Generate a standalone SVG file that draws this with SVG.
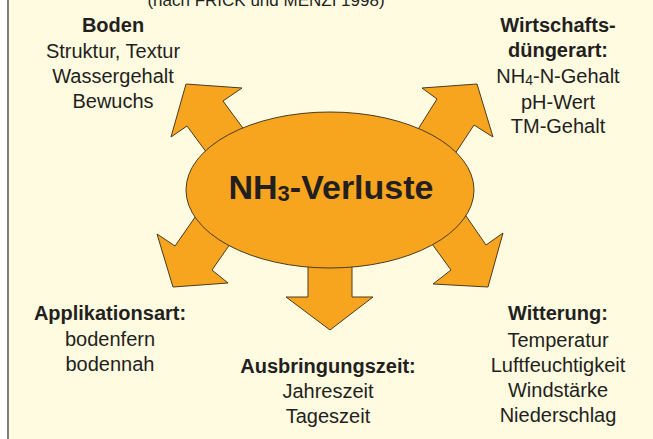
<svg xmlns="http://www.w3.org/2000/svg" width="653" height="439" viewBox="0 0 653 439">
<style>
.bg{fill:#FFFBE0;stroke:#555;stroke-width:1.5}
.sh{fill:#F7A51E;stroke:#4a3b22;stroke-width:1;stroke-linejoin:miter}
text{font-family:"Liberation Sans",Arial,Helvetica,sans-serif;fill:#231F20;text-anchor:middle}
.t{font-size:20px}
.b{font-size:20px;font-weight:bold}
</style>
<rect x="0" y="0" width="653" height="439" fill="#fff"/>
<rect class="bg" x="8" y="-5" width="660" height="450"/>
<text x="266" y="6" style="font-size:17px">(nach FRICK und MENZI 1998)</text>
<g id="connectors">
<polygon class="sh" points="221,172 187,126 171,137 186,84 242,88 223,101 259,150"/>
<polygon class="sh" points="443,172 474,125 493,137 477,84 422,88 437,99 405,150"/>
<polygon class="sh" points="207,200 175,246 157,234 173,287 228,283 212,270 242,227"/>
<polygon class="sh" points="453,197 486,245 503,233 488,287 433,284 451,270 419,226"/>
<polygon class="sh" points="308,250 308,297 286,297 330,330 373,297 352,297 352,250"/>
</g>
<g id="center">
<ellipse class="sh" cx="330" cy="190" rx="144" ry="78"/>
<text x="331" y="199" style="font-size:34px;font-weight:bold">NH<tspan style="font-size:22px" dy="2">3</tspan><tspan dy="-2">-Verluste</tspan></text>
</g>
<g id="boden">
<text class="b" x="113" y="32">Boden</text>
<text class="t" x="113" y="58">Struktur, Textur</text>
<text class="t" x="113" y="83">Wassergehalt</text>
<text class="t" x="113" y="108">Bewuchs</text>
</g>
<g id="wirtschaftsduenger">
<text class="b" x="558" y="32">Wirtschafts-</text>
<text class="b" x="558" y="57">düngerart:</text>
<text class="t" x="558" y="83">NH<tspan style="font-size:14px" dy="2">4</tspan><tspan dy="-2">-N-Gehalt</tspan></text>
<text class="t" x="558" y="109">pH-Wert</text>
<text class="t" x="558" y="133">TM-Gehalt</text>
</g>
<g id="applikationsart">
<text class="b" x="110" y="320">Applikationsart:</text>
<text class="t" x="110" y="346">bodenfern</text>
<text class="t" x="110" y="371">bodennah</text>
</g>
<g id="ausbringungszeit">
<text class="b" x="328" y="373">Ausbringungszeit:</text>
<text class="t" x="328" y="398">Jahreszeit</text>
<text class="t" x="328" y="423">Tageszeit</text>
</g>
<g id="witterung">
<text class="b" x="558" y="320">Witterung:</text>
<text class="t" x="558" y="347">Temperatur</text>
<text class="t" x="558" y="372">Luftfeuchtigkeit</text>
<text class="t" x="558" y="397">Windstärke</text>
<text class="t" x="558" y="422">Niederschlag</text>
</g>
</svg>
